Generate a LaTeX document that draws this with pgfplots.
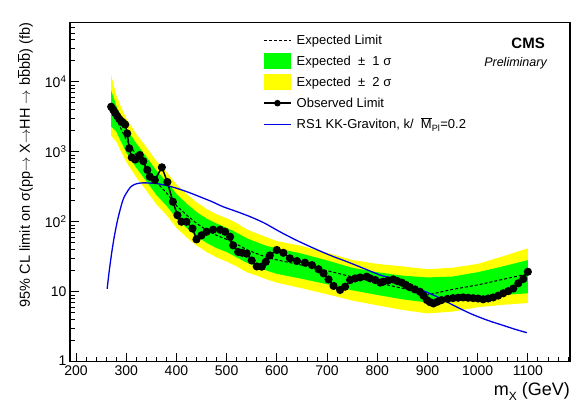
\documentclass[border=0pt]{standalone}
\usepackage{pgfplots}
\pgfplotsset{compat=1.18}
\usepgfplotslibrary{fillbetween}
\usepackage{pgfplotstable}
\usepackage{fontspec}
\setmainfont{Liberation Sans}
\definecolor{rootgreen}{RGB}{0,255,0}
\definecolor{rootyellow}{RGB}{255,255,0}
\definecolor{rootblue}{RGB}{0,0,230}

\pgfplotstableread{
m exp m2 m1 p1 p2
270 4000 1700 2300 7500 12500
280 3000 1400 1950 4600 6500
290 2100 1000 1380 3100 4300
300 1500 720 980 2200 3000
320 900 430 590 1320 1800
340 580 280 380 850 1170
360 370 178 242 540 740
380 260 125 170 380 520
400 170 82 112 250 340
420 125 60 82 182 250
440 95 46 62 138 190
460 76 37 50 111 152
480 64 31 42 94 128
500 56 27 37 82 112
520 48 23 31 70 96
540 40 19 26 58 78
560 35 17 23 51 68
580 31 15 20 45 60
600 28.5 13.5 18 42 53
650 24 11.2 15.3 35 45
700 20 9.2 12.8 28 36
750 16.3 7.5 10.5 22 28.5
800 13.5 6.4 9 19 25
850 11.2 5.5 7.8 17 23
900 9.0 4.9 7.0 16 21
950 10.8 5.2 7.3 16.5 22
1000 12.5 6 8.5 19 25
1050 15 6.5 9 23 32
1100 18 6.9 9.5 28.3 41.7
}\expdata

\pgfplotstableread{
m obs
270 4400
274 4000
278 3600
282 3250
286 2950
290 2750
294 2600
298 2450
302 1830
306 1120
311 830
318 775
327 900
334 735
342 550
347 440
357 395
371 600
382 370
393 193
402 124
410 100
420 100
432 80
440 56
450 64
460 72
473 77
487 77
497 72
507 61
513 46
523 37
531 36
540 35
550 28
560 23
570 22.8
578 26.8
586 33
600 39.5
613 36
626 30
640 27.5
656 26
670 24
683 21
693 18.3
703 15
713 12.1
726 10.6
736 11.8
746 14.7
756 15.5
766 16
779 16.4
786 15.5
796 14.7
806 13.5
812 13.9
822 14.5
832 15
840 14.2
849 13.5
857 12.5
865 11.6
875 10.8
885 10
892 8.8
899 7.6
905 7.1
912 6.8
920 7.2
928 7.6
940 7.9
951 8.1
961 8.2
971 8.3
981 8.2
991 8.1
1001 8.0
1011 7.8
1021 8.0
1031 8.3
1041 8.8
1051 9.5
1061 10.2
1071 11.1
1081 13.2
1091 15.2
1100 19.3
}\obsdata

\pgfplotstableread{
m rs
262 11
265 17
268 25
272 40
276 60
282 100
288 150
294 210
300 255
308 310
316 340
325 355
335 360
345 358
360 352
380 330
400 302
425 262
447 227
470 195
493 164
520 140
547 118
575 96
606 72
640 54
673 42
707 33
739 27
770 22
806 17.3
830 15.5
852 13.5
885 10.8
919 8.5
950 6.5
985 4.9
1020 3.9
1051 3.3
1075 2.9
1098 2.6
}\rsdata

\begin{document}
\begin{tikzpicture}
\path (0,0) rectangle (581pt,410pt);
\begin{axis}[
  at={(70pt,48.3pt)}, anchor=south west,
  scale only axis, width=500pt, height=339pt,
  xmin=188, xmax=1184, ymin=1, ymax=70000,
  ymode=log,
  axis line style={line width=1.1pt},
  tick align=inside, xtick pos=bottom, ytick pos=left,
  xtick={200,300,...,1100},
  minor xtick={200,220,...,1180},
  ytick={1,10,100,1000,10000},
  yticklabels={\raisebox{3pt}{1},10,10\textsuperscript{2},10\textsuperscript{3},10\textsuperscript{4}},
  minor ytick={2,3,4,5,6,7,8,9,20,30,40,50,60,70,80,90,200,300,400,500,600,700,800,900,2000,3000,4000,5000,6000,7000,8000,9000,20000,30000,40000,50000,60000,70000},
  major tick length=9pt, minor tick length=5pt,
  tick style={line width=0.8pt, black},
  xticklabel style={font=\fontsize{14}{16}\selectfont, /pgf/number format/1000 sep={}, /pgf/number format/assume math mode=true},
  yticklabel style={font=\fontsize{14}{16}\selectfont},
  xlabel={m\raisebox{-5pt}{\fontsize{12}{14}\selectfont X}\ (GeV)},
  every axis x label/.style={at={(axis description cs:1,0)}, anchor=north east, yshift=-21pt, inner sep=0pt, font=\fontsize{18}{20}\selectfont},
  ylabel={95\% CL limit on σ(pp$\rightarrow$ X$\rightarrow$HH $\rightarrow$ b$\overline{\mbox{b}}$b$\overline{\mbox{b}}$) (fb)},
  every axis y label/.style={at={(axis description cs:-0.09,1)}, rotate=90, anchor=east, inner sep=0pt, font=\fontsize{14.5}{16}\selectfont},
  legend style={at={(axis description cs:0.386,0.9726)}, anchor=north west, draw=none, fill=none, inner sep=0pt, row sep=5pt, column sep=5pt, nodes={inner sep=0pt}, font=\fontsize{13}{15}\selectfont},
  legend cell align=left,
]
\addlegendimage{legend image code/.code={\path[draw=none,fill=none] (0pt,-8pt) rectangle (27pt,8pt); \draw[black, line width=1pt, dash pattern=on 3pt off 2pt] (0pt,0pt) -- (27pt,0pt);}}
\addlegendentry{Expected Limit}
\addlegendimage{legend image code/.code={\fill[rootgreen, draw=none] (0pt,-8pt) rectangle (27pt,8pt);}}
\addlegendentry{Expected \ ± \ 1 σ}
\addlegendimage{legend image code/.code={\fill[rootyellow, draw=none] (0pt,-8pt) rectangle (27pt,8pt);}}
\addlegendentry{Expected \ ± \ 2 σ}
\addlegendimage{legend image code/.code={\path[draw=none,fill=none] (0pt,-8pt) rectangle (27pt,8pt); \draw[black, line width=1.5pt] (0pt,0pt) -- (27pt,0pt); \fill[black, draw=none] (13.5pt,0pt) circle (3.3pt);}}
\addlegendentry{Observed Limit}
\addlegendimage{legend image code/.code={\path[draw=none,fill=none] (0pt,-8pt) rectangle (27pt,8pt); \draw[rootblue, line width=1.3pt] (0pt,0pt) -- (27pt,0pt);}}
\addlegendentry{RS1 KK-Graviton, k/\ \ $\overline{\mbox{M}}$\textsubscript{Pl}=0.2}

\addplot[name path=p2, draw=none, forget plot] table[x=m, y=p2]{\expdata};
\addplot[name path=m2, draw=none, forget plot] table[x=m, y=m2]{\expdata};
\addplot[name path=p1, draw=none, forget plot] table[x=m, y=p1]{\expdata};
\addplot[name path=m1, draw=none, forget plot] table[x=m, y=m1]{\expdata};
\addplot[rootyellow, forget plot] fill between[of=p2 and m2];
\addplot[rootgreen, forget plot] fill between[of=p1 and m1];
\addplot[black, line width=1pt, dash pattern=on 3pt off 2pt, forget plot] table[x=m, y=exp]{\expdata};
\addplot[black, line width=1.5pt, mark=*, mark size=3.3pt, mark options={solid, fill=black}, forget plot] table[x=m, y=obs]{\obsdata};
\addplot[rootblue, line width=1.3pt, smooth, forget plot] table[x=m, y=rs]{\rsdata};

\node[anchor=south east, font=\fontsize{11}{13}\selectfont, inner sep=0pt] at (axis description cs:0.996,1.013) {17.93 fb\,\textsuperscript{-1}\ \ (8 TeV)};
\node[anchor=east, font=\bfseries\fontsize{15}{17}\selectfont, inner sep=0pt] at (axis description cs:0.95,0.940) {CMS};
\node[anchor=east, font=\itshape\fontsize{12.5}{15}\selectfont, inner sep=0pt] at (axis description cs:0.954,0.881) {Preliminary};
\end{axis}
\end{tikzpicture}
\end{document}
